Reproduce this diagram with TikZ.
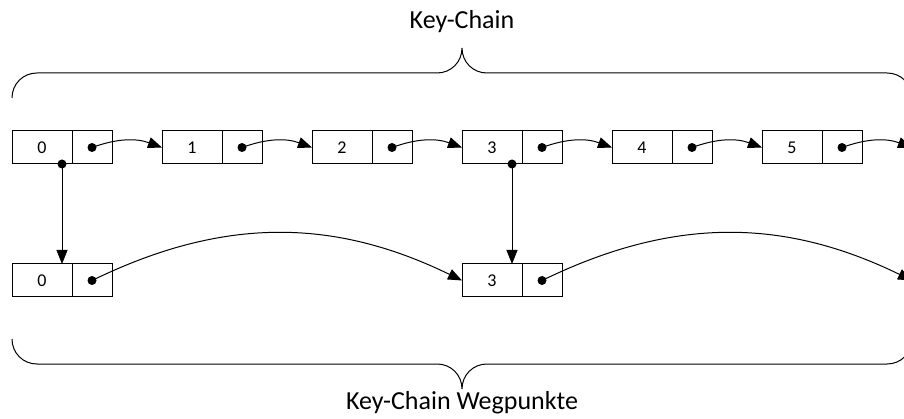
\documentclass[tikz,border=0pt]{standalone}
\usepackage{fontspec}
\setmainfont{Carlito}
\usepackage{tikz}
\usetikzlibrary{arrows.meta,positioning,calc}

\begin{document}
\begin{tikzpicture}[x=1pt,y=-1pt,line width=1pt,
    keycell/.style={rectangle, draw, outer sep=0pt, inner sep=0pt, minimum width=60pt, minimum height=33pt, font=\fontsize{18}{21}\selectfont},
    ptrcell/.style={rectangle, draw, outer sep=0pt, inner sep=0pt, minimum width=40pt, minimum height=33pt},
    dot/.style={circle, fill, inner sep=0pt, minimum size=9pt},
    link/.style={-{Triangle[length=14pt,width=11pt]}},
    chainname/.style={font=\fontsize{26}{30}\selectfont}]
    \clip (0,0) rectangle (904,419);

    % key chain
    \node[keycell] (k0) at (42,147.5) {0};
    \node[ptrcell, right=0pt of k0] (p0) {};
    \node[keycell] (k1) at (192,147.5) {1};
    \node[ptrcell, right=0pt of k1] (p1) {};
    \node[keycell] (k2) at (342,147.5) {2};
    \node[ptrcell, right=0pt of k2] (p2) {};
    \node[keycell] (k3) at (492,147.5) {3};
    \node[ptrcell, right=0pt of k3] (p3) {};
    \node[keycell] (k4) at (642,147.5) {4};
    \node[ptrcell, right=0pt of k4] (p4) {};
    \node[keycell] (k5) at (792,147.5) {5};
    \node[ptrcell, right=0pt of k5] (p5) {};
    \coordinate (k6) at (912,147.5);

    \foreach \i in {0,...,5}
        \node[dot] (d\i) at (p\i) {};
    \foreach \i/\j in {0/1,1/2,2/3,3/4,4/5,5/6}
        \draw[link] (d\i.center) to[bend left=20] (k\j.west);

    % waypoints
    \node[keycell] (w0) at (42,280.5) {0};
    \node[ptrcell, right=0pt of w0] (wp0) {};
    \node[keycell] (w3) at (492,280.5) {3};
    \node[ptrcell, right=0pt of w3] (wp3) {};
    \coordinate (w6) at (912,280.5);

    \node[dot] (e0) at (wp0) {};
    \node[dot] (e3) at (wp3) {};
    \draw[link] (e0.center) to[bend left=26] (w3.west);
    \draw[link] (e3.center) to[bend left=26] (w6);

    % chain -> waypoint
    \foreach \i in {0,3} {
        \coordinate (s\i) at ($(k\i.south west)!.5!(p\i.south east)$);
        \coordinate (t\i) at ($(w\i.north west)!.5!(wp\i.north east)$);
        \node[dot] (v\i) at (s\i) {};
        \draw[link] (v\i.center) -- (t\i);
    }

    % braces
    \draw (12,98) .. controls (12,84) and (23,73) .. (37,73) -- (437,73)
        .. controls (451,73) and (462,62) .. (462,48)
        .. controls (462,62) and (473,73) .. (487,73) -- (887,73)
        .. controls (901,73) and (912,84) .. (912,98);
    \draw (12,339) .. controls (12,353) and (23,364) .. (37,364) -- (437,364)
        .. controls (451,364) and (462,375) .. (462,389)
        .. controls (462,375) and (473,364) .. (487,364) -- (887,364)
        .. controls (901,364) and (912,353) .. (912,339);

    \node[chainname] (chain) at (462,22) {Key-Chain};
    \node[chainname] (ways) at (462,403) {Key-Chain Wegpunkte};
\end{tikzpicture}
\end{document}
